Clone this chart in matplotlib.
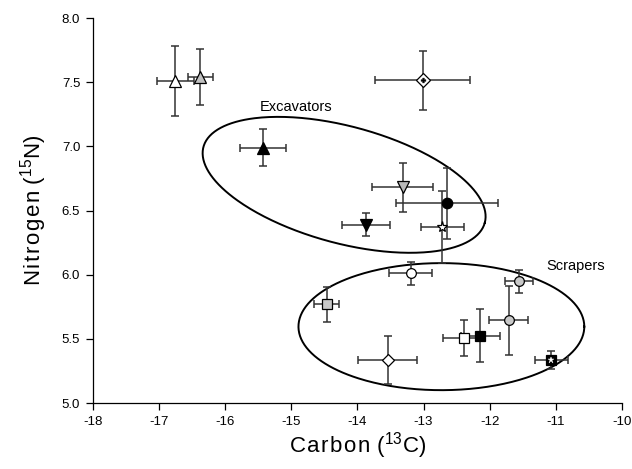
import numpy as np
import matplotlib
matplotlib.use("Agg")
import matplotlib.pyplot as plt

plt.rcParams['font.family'] = ['Liberation Sans', 'DejaVu Sans']
plt.rcParams['mathtext.fontset'] = 'custom'
plt.rcParams['mathtext.rm'] = 'Liberation Sans'
plt.rcParams['mathtext.it'] = 'Liberation Sans:italic'
plt.rcParams['mathtext.bf'] = 'Liberation Sans:bold'
plt.rcParams['mathtext.default'] = 'regular'

# ---- data (delta 13C, delta 15N, with SE) ----
carbon = [-16.755, -16.375, -13.015, -15.43, -13.315, -12.65, -12.715, -13.865,
          -13.19, -14.465, -13.54, -12.39, -12.14, -11.555, -11.715, -11.07]
nitrogen = [7.51, 7.54, 7.515, 6.99, 6.68, 6.555, 6.37, 6.39,
            6.01, 5.77, 5.335, 5.505, 5.525, 5.95, 5.645, 5.335]
carbon_err = [0.28, 0.19, 0.715, 0.35, 0.465, 0.77, 0.33, 0.36,
              0.325, 0.195, 0.445, 0.31, 0.30, 0.21, 0.30, 0.25]
nitrogen_err = [0.27, 0.22, 0.23, 0.145, 0.19, 0.28, 0.28, 0.09,
                0.09, 0.135, 0.185, 0.14, 0.205, 0.09, 0.27, 0.07]
markers = ['^', '^', 'D', '^', 'v', 'o', '*', 'v',
           'o', 's', 'D', 's', 's', 'o', 'o', 's']
face_colors = ['white', '#c0c0c0', 'white', 'black', '#b8b8b8', 'black', 'white', 'black',
               'white', '#c8c8c8', 'white', 'white', 'black', '#c8c8c8', '#c8c8c8', 'black']
marker_sizes = [8, 8, 7, 8, 8, 7.5, 8, 8, 7, 6.5, 6.5, 6.5, 6.5, 7, 7, 6.5]
inner_marks = [None, None, ('P', 'black'), None, None, None, None, None,
               None, None, None, None, None, None, None, ('*', 'white')]

x_ticks = [-18, -17, -16, -15, -14, -13, -12, -11, -10]
y_ticks = [5.0, 5.5, 6.0, 6.5, 7.0, 7.5, 8.0]

group_labels = ['Excavators', 'Scrapers']
label_pos = [(-15.47, 7.31), (-11.15, 6.07)]

W, H = 632, 469
ax_left, ax_right, ax_top, ax_bottom = 92.7, 622.0, 18.0, 403.0   # pixels
fig = plt.figure(figsize=(W / 100, H / 100), dpi=100)
ax = fig.add_axes([ax_left / W, (H - ax_bottom) / H,
                   (ax_right - ax_left) / W, (ax_bottom - ax_top) / H])

for i in range(len(carbon)):
    ax.errorbar(carbon[i], nitrogen[i], xerr=carbon_err[i], yerr=nitrogen_err[i],
                fmt='none', ecolor='#333333', elinewidth=1.1, capsize=3.2,
                capthick=1.1, zorder=2)
for i in range(len(carbon)):
    ax.plot(carbon[i], nitrogen[i], marker=markers[i], ms=marker_sizes[i],
            mfc=face_colors[i], mec='black', mew=0.9, ls='none', zorder=3)
    if inner_marks[i] is not None:
        m, c = inner_marks[i]
        ax.plot(carbon[i], nitrogen[i], marker=m, ms=3.5 if m == 'P' else 4.5,
                mfc=c, mec=c, mew=0.3, ls='none', zorder=4)

# pixel scale of the data axes (for ellipses defined in screen-like proportions)
sx = (ax_right - ax_left) / 8.0
sy = (ax_bottom - ax_top) / 3.0
def ellipse(cx, cy, a_px, b_px, ang_deg):
    t = np.linspace(0, 2 * np.pi, 400)
    th = np.deg2rad(ang_deg)
    xp = a_px * np.cos(t) * np.cos(th) - b_px * np.sin(t) * np.sin(th)
    yp = a_px * np.cos(t) * np.sin(th) + b_px * np.sin(t) * np.cos(th)
    return cx + xp / sx, cy + yp / sy

ex, ey = ellipse(-14.2, 6.70, 145.7, 58.4, -15.1)
ax.plot(ex, ey, color='black', lw=1.4, zorder=1)
sx_, sy_ = ellipse(-12.73, 5.595, 2.16 * sx, 0.495 * sy, 0)
ax.plot(sx_, sy_, color='black', lw=1.4, zorder=1)

for lab, (lx, ly) in zip(group_labels, label_pos):
    ax.text(lx, ly, lab, fontsize=10.5, ha='left', va='center')

ax.set_xlim(-18, -10)
ax.set_ylim(5.0, 8.0)
ax.set_xticks(x_ticks)
ax.set_xticklabels([str(v) for v in x_ticks])
ax.set_yticks(y_ticks)
ax.set_yticklabels([f"{v:.1f}" for v in y_ticks])
ax.tick_params(direction='out', length=5, width=0.9, labelsize=9.5, pad=4)
for s in ['top', 'right']:
    ax.spines[s].set_visible(False)
for s in ['left', 'bottom']:
    ax.spines[s].set_linewidth(0.9)

def spaced(word, gap=0.09):
    return (r'\hspace{%g}' % gap).join(word)

xlab = '$' + spaced('Carbon') + r'\ (^{13}C)$'
ylab = '$' + spaced('Nitrogen') + r'\ (^{15}N)$'
ax.set_xlabel(xlab, fontsize=16, labelpad=2)
ax.set_ylabel(ylab, fontsize=16, labelpad=9)

fig.savefig('out.png', dpi=100)
